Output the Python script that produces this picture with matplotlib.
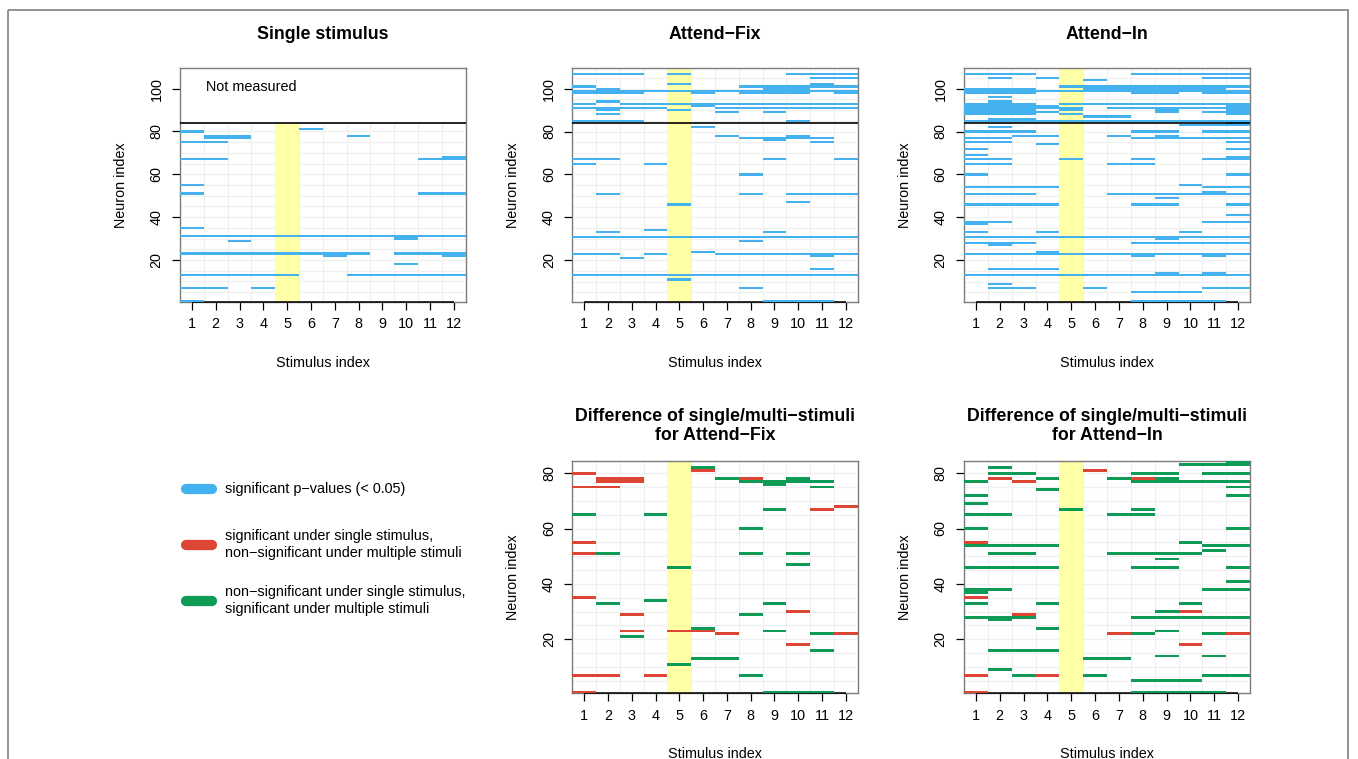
import matplotlib
matplotlib.use('Agg')
import matplotlib.pyplot as plt
import numpy as np
from matplotlib.patches import Rectangle
from matplotlib.lines import Line2D

plt.rcParams['font.family'] = ['Liberation Sans', 'DejaVu Sans']

# ---------------- data ----------------
stimuli = list(range(1, 13))
n_single = 84      # neurons measured under single stimulus
n_multi = 109      # neurons measured under multiple stimuli
highlight_stim = 5

# significant neurons (p < 0.05) per stimulus, single stimulus condition
single_sig = [
    [1, 7, 13, 23, 31, 35, 51, 55, 67, 75, 80],
    [7, 13, 23, 31, 67, 75, 77, 78],
    [13, 23, 29, 31, 77, 78],
    [7, 13, 23, 31],
    [13, 23, 31],
    [23, 31, 81],
    [22, 23, 31],
    [13, 23, 31, 78],
    [13, 31],
    [13, 18, 23, 30, 31],
    [13, 23, 31, 51, 67],
    [13, 22, 23, 31, 51, 67, 68],
]

# Attend-Fix (multiple stimuli)
fix_sig = [
    [13, 23, 31, 65, 67, 85, 91, 93, 98, 99, 101, 107],
    [13, 23, 31, 33, 51, 67, 85, 88, 90, 91, 94, 98, 99, 100, 107],
    [13, 21, 31, 85, 91, 93, 98, 99, 107],
    [13, 23, 31, 34, 65, 91, 93, 99],
    [11, 13, 31, 46, 90, 93, 99, 102, 107],
    [13, 24, 31, 82, 92, 93, 98, 99],
    [13, 23, 31, 78, 89, 91, 93, 99],
    [7, 13, 23, 29, 31, 51, 60, 77, 91, 93, 98, 99, 101],
    [1, 13, 23, 31, 33, 67, 76, 77, 89, 91, 93, 98, 99, 100, 101],
    [1, 13, 23, 31, 47, 51, 77, 78, 85, 91, 93, 98, 99, 100, 101, 107],
    [1, 13, 16, 22, 23, 31, 51, 75, 77, 91, 93, 99, 101, 102, 105, 107],
    [13, 23, 31, 51, 67, 91, 93, 98, 99, 101, 105, 107],
]

# Attend-In (multiple stimuli)
in_sig = [
    [13, 23, 28, 31, 33, 37, 38, 46, 51, 54, 60, 65, 67, 69, 72, 75, 77, 80,
     85, 88, 89, 90, 91, 92, 93, 98, 99, 100, 107],
    [7, 9, 13, 16, 23, 27, 28, 31, 38, 46, 51, 54, 65, 67, 75, 77, 80, 82,
     85, 86, 88, 89, 90, 91, 92, 93, 94, 96, 98, 99, 100, 105, 107],
    [7, 13, 16, 23, 28, 31, 46, 51, 54, 78, 80,
     85, 86, 88, 89, 90, 91, 92, 93, 98, 99, 100, 107],
    [13, 16, 23, 24, 31, 33, 46, 54, 74, 78, 85, 89, 91, 92, 99, 105],
    [13, 23, 31, 67, 85, 88, 90, 91, 93, 99, 101],
    [7, 13, 23, 31, 85, 87, 93, 99, 100, 101, 104],
    [13, 23, 31, 51, 65, 78, 85, 87, 91, 93, 99, 100, 101],
    [1, 5, 13, 22, 23, 28, 31, 46, 51, 65, 67, 77, 80,
     85, 91, 93, 98, 99, 100, 101, 107],
    [1, 5, 13, 14, 23, 28, 30, 31, 46, 49, 51, 77, 78, 80,
     85, 89, 90, 91, 93, 98, 99, 100, 101, 107],
    [1, 5, 13, 23, 28, 31, 33, 51, 55, 77, 83, 85, 91, 93, 99, 100, 101, 107],
    [1, 7, 13, 14, 22, 23, 28, 31, 38, 51, 52, 54, 67, 77, 80, 83,
     85, 89, 91, 93, 98, 99, 100, 101, 105, 107],
    [7, 13, 23, 28, 31, 38, 41, 46, 51, 54, 60, 67, 68, 72, 75, 77, 80, 83, 84,
     85, 88, 89, 90, 91, 92, 93, 98, 99, 101, 105, 107],
]

legend_labels = [
    "significant p\u2212values (< 0.05)",
    "significant under single stimulus,\nnon\u2212significant under multiple stimuli",
    "non\u2212significant under single stimulus,\nsignificant under multiple stimuli",
]

# ---------------- style ----------------
BLUE = '#45B2F0'
RED = '#DD4535'
GREEN = '#0E9B55'
YELLOW = '#FFFFA6'
GRID = '#F0F0F0'
BOX = '#7C7C7C'
FS = 10.4

W, H = 1358, 759
fig = plt.figure(figsize=(W / 100, H / 100), dpi=100)


def ax_at(x0, y0, x1, y1):
    return fig.add_axes([x0 / W, 1 - y1 / H, (x1 - x0) / W, (y1 - y0) / H])


def diff_lists(single, multi):
    red, green = [], []
    for s, m in zip(single, multi):
        ss, mm = set(s), set(r for r in m if r <= n_single)
        red.append(sorted(ss - mm))
        green.append(sorted(mm - ss))
    return red, green


def draw_cells(ax, sig, color):
    xs, ys = [], []
    for c, rows in zip(stimuli, sig):
        for r in rows:
            xs.append(c)
            ys.append(r)
    ax.bar(xs, np.ones(len(xs)), width=1.0, bottom=np.array(ys) - 0.5,
           color=color, linewidth=0, zorder=8)


def setup(ax, nrows, yticks, title, grid_top, sep=False, xlab_off=61,
          title_off=34):
    ax.set_xlim(0.5, 12.5)
    ax.set_ylim(0.5, nrows + 0.5)
    ax.vlines(np.arange(0.5, 13, 1), 0.5, grid_top, color=GRID, lw=0.9, zorder=0)
    ax.hlines(np.arange(5, grid_top, 5), 0.5, 12.5, color=GRID, lw=0.9, zorder=0)
    ax.add_patch(Rectangle((highlight_stim - 0.5, 0.5), 1, grid_top - 0.5,
                           facecolor=YELLOW, lw=0, zorder=1))
    if sep:
        ax.axhline(n_single, color='black', lw=1.2, zorder=9)
    for s in ax.spines.values():
        s.set_color(BOX)
        s.set_linewidth(1.0)
    ax.set_xticks(stimuli)
    ax.set_yticks(yticks)
    ax.tick_params(axis='both', direction='out', length=5.8, width=0.9,
                   color='black', labelsize=FS)
    ax.tick_params(axis='x', pad=5.2)
    ax.tick_params(axis='y', pad=6.0, labelrotation=90)
    for lbl in ax.get_yticklabels():
        lbl.set_va('center')
    ax.plot([1, 12], [0.5, 0.5], color='black', lw=1.1, clip_on=False,
            zorder=7, solid_capstyle='butt')
    h_px = ax.get_position().height * H
    w_px = ax.get_position().width * W
    ax.set_xlabel('Stimulus index', fontsize=FS)
    ax.xaxis.set_label_coords(0.5, -xlab_off / h_px)
    ax.xaxis.label.set_va('center')
    ax.set_ylabel('Neuron index', fontsize=FS)
    ax.yaxis.set_label_coords(-59 / w_px, 0.5)
    ax.yaxis.label.set_va('center')
    ax.text(0.5, 1 + title_off / h_px, title, transform=ax.transAxes,
            ha='center', va='center', fontsize=12.8, fontweight='bold',
            linespacing=1.2)


red_fix, green_fix = diff_lists(single_sig, fix_sig)
red_in, green_in = diff_lists(single_sig, in_sig)

# Top row
ax1 = ax_at(180, 68.3, 465.7, 301.7)
setup(ax1, n_multi, [20, 40, 60, 80, 100], 'Single stimulus', grid_top=n_single,
      sep=True)
draw_cells(ax1, single_sig, BLUE)
ax1.text(3.5, 101, 'Not measured', ha='center', va='center', fontsize=FS)

ax2 = ax_at(572.3, 68.3, 857.7, 302.0)
setup(ax2, n_multi, [20, 40, 60, 80, 100], 'Attend\u2212Fix',
      grid_top=n_multi + 0.5, sep=True)
draw_cells(ax2, fix_sig, BLUE)

ax3 = ax_at(964, 68.3, 1250, 302.0)
setup(ax3, n_multi, [20, 40, 60, 80, 100], 'Attend\u2212In',
      grid_top=n_multi + 0.5, sep=True)
draw_cells(ax3, in_sig, BLUE)

# Bottom row
ax4 = ax_at(572.3, 460.7, 857.7, 693.3)
setup(ax4, n_single, [20, 40, 60, 80],
      'Difference of single/multi\u2212stimuli\nfor Attend\u2212Fix',
      grid_top=n_single + 0.5, title_off=34.5)
draw_cells(ax4, red_fix, RED)
draw_cells(ax4, green_fix, GREEN)

ax5 = ax_at(964, 460.7, 1250, 693.3)
setup(ax5, n_single, [20, 40, 60, 80],
      'Difference of single/multi\u2212stimuli\nfor Attend\u2212In',
      grid_top=n_single + 0.5, title_off=34.5)
draw_cells(ax5, red_in, RED)
draw_cells(ax5, green_in, GREEN)

# Overlay for legend and outer frame (pixel coordinates)
ov = fig.add_axes([0, 0, 1, 1], zorder=-1)
ov.set_xlim(0, W)
ov.set_ylim(H, 0)
ov.axis('off')
ov.add_patch(Rectangle((8, 10), 1340, 800, fill=False, edgecolor='#8A8A8A',
                       lw=1.3))

leg_colors = [BLUE, RED, GREEN]
leg_y = [489, 544.5, 600.5]
for col, y, lab in zip(leg_colors, leg_y, legend_labels):
    ov.add_line(Line2D([186, 212], [y, y], color=col, lw=7.4,
                       solid_capstyle='round'))
    ov.text(225, y, lab, ha='left', va='center', fontsize=FS, linespacing=1.22)

fig.savefig('out.png', dpi=100)
